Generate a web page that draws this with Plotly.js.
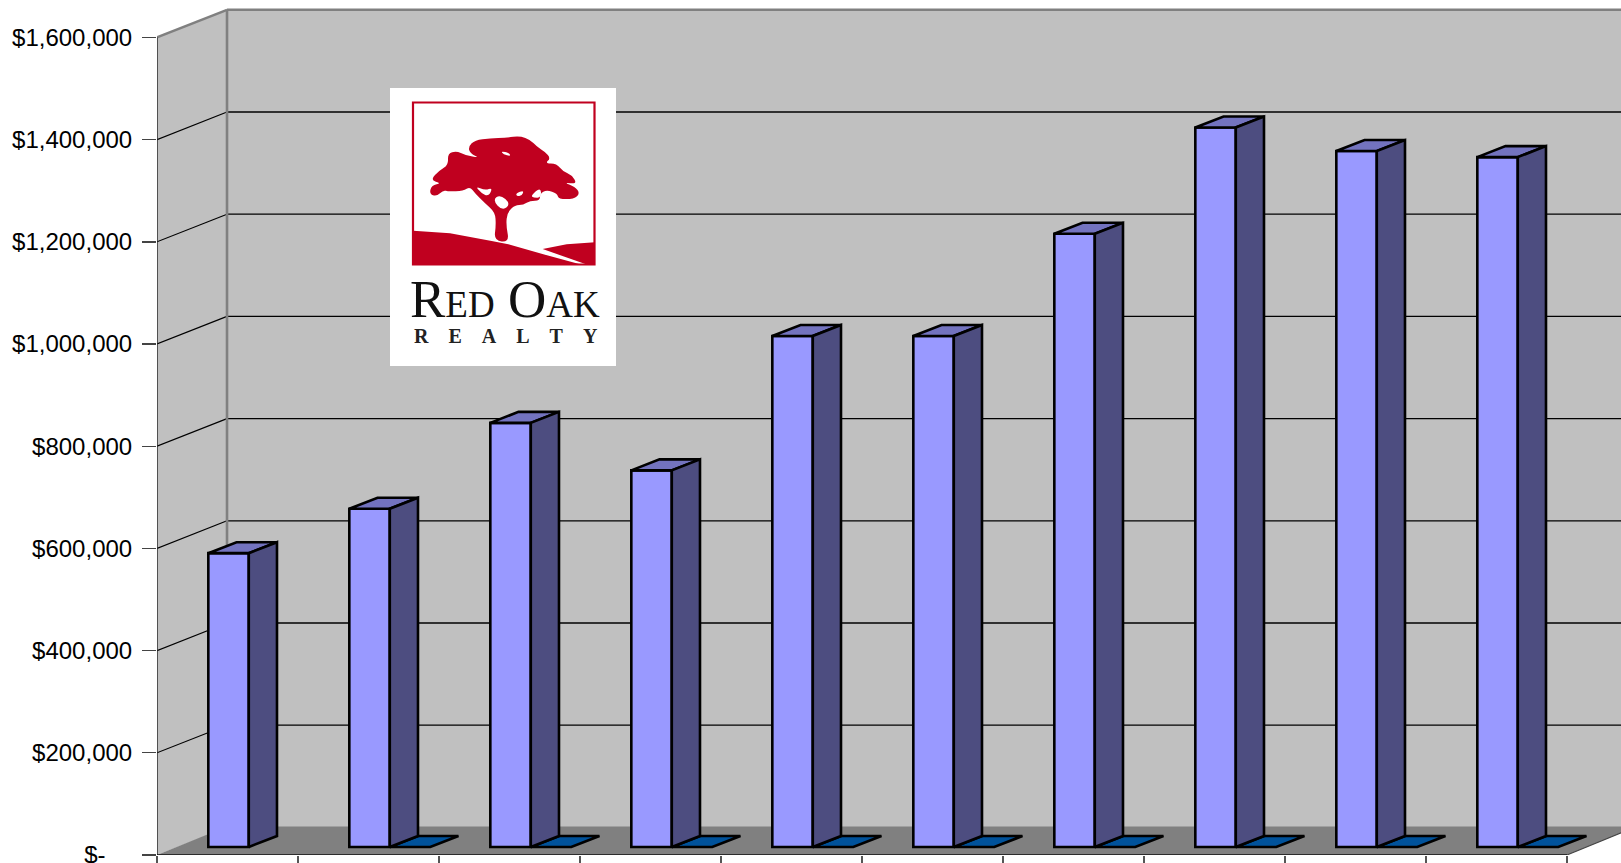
<!DOCTYPE html>
<html>
<head>
<meta charset="utf-8">
<script src="https://cdn.plot.ly/plotly-3.0.1.min.js"></script>
<style>html,body{margin:0;padding:0;background:#fff;overflow:hidden}</style>
</head>
<body>
<div id="chart" style="width:1621px;height:863px"></div>
<script>
const categoryIndex = [0, 1, 2, 3, 4, 5, 6, 7, 8, 9];
const seriesA = [575000, 662000, 830000, 737000, 1000000, 1000000, 1200000, 1408000, 1362000, 1350000];
const seriesB = [null, 0, 0, 0, 0, 0, 0, 0, 0, 0];
const tickValues = [0, 200000, 400000, 600000, 800000, 1000000, 1200000, 1400000, 1600000];
const tickLabels = ['$-\u00a0\u00a0\u00a0\u00a0', '$200,000', '$400,000', '$600,000', '$800,000', '$1,000,000', '$1,200,000', '$1,400,000', '$1,600,000'];

// oblique projection constants, in axis units
const wallDx = 0.4965, wallDy = 54000, floorDy = 56000;
const barLeft = 0.364, barW = 0.287, sideDx = 0.2, sideDy = 21500, barBase = 15656;
const xMax = 1464 / 141, yMax = 855 / 102.2 * 200000;
const EDGE = 2.6;

function poly(pts) { return 'M' + pts.map(p => p[0] + ',' + p[1]).join('L') + 'Z'; }
const shapes = [];
function fillShape(pts, color, layer) {
  shapes.push({type: 'path', xref: 'x', yref: 'y', path: poly(pts), fillcolor: color, line: {width: 0}, layer: layer || 'below'});
}
function seg(x0, y0, x1, y1, color, width) {
  shapes.push({type: 'line', xref: 'x', yref: 'y', x0, y0, x1, y1, line: {color, width}, layer: 'below'});
}
// walls and floor
fillShape([[0, 0], [0, 1600000], [wallDx, 1600000 + wallDy], [wallDx, wallDy]], '#c0c0c0');
fillShape([[wallDx, wallDy], [wallDx, 1600000 + wallDy], [10 + wallDx, 1600000 + wallDy], [10 + wallDx, wallDy]], '#c0c0c0');
fillShape([[0, 0], [wallDx, floorDy], [10 + wallDx, floorDy], [10, 0]], '#808080');
// gridlines
tickValues.slice(1, -1).forEach(v => {
  seg(0, v, wallDx, v + wallDy, '#000', 1.2);
  seg(wallDx, v + wallDy, 10 + wallDx, v + wallDy, '#000', 1.3);
});
seg(wallDx, 1600000 + wallDy, 10 + wallDx, 1600000 + wallDy, '#808080', 2.4);
seg(0, 1600000, wallDx, 1600000 + wallDy, '#808080', 2.4);
seg(wallDx, floorDy, wallDx, 1600000 + wallDy, '#808080', 2.6);
seg(0, 0, 0, 1600000, '#222', 1.4);
seg(10, 0, 10 + wallDx, floorDy, '#444', 1.1);

// logo, drawn in reference pixels and converted to paper fractions
const px = x => (x - 157) / 1464;
const py = y => (855 - y) / 855;
const cx = x => px(420 + x / 3);
const cy = y => py(125 + y / 3);
function logoPath(pts, fill) {
  shapes.push({type: 'path', xref: 'paper', yref: 'paper', layer: 'above',
    path: 'M' + pts.map(p => cx(p[0]) + ',' + cy(p[1])).join('L') + 'Z', fillcolor: fill, line: {width: 0}});
}
function logoSmooth(pts, fill) {
  const n = pts.length;
  const mid = i => [(pts[i][0] + pts[(i + 1) % n][0]) / 2, (pts[i][1] + pts[(i + 1) % n][1]) / 2];
  const m0 = mid(n - 1);
  let d = 'M' + cx(m0[0]) + ',' + cy(m0[1]);
  for (let i = 0; i < n; i++) {
    const m = mid(i);
    d += 'Q' + cx(pts[i][0]) + ',' + cy(pts[i][1]) + ' ' + cx(m[0]) + ',' + cy(m[1]);
  }
  shapes.push({type: 'path', xref: 'paper', yref: 'paper', layer: 'above', path: d + 'Z', fillcolor: fill, line: {width: 0}});
}
const RED = '#c0001f';
shapes.push({type: 'rect', xref: 'paper', yref: 'paper', layer: 'above', x0: px(390), x1: px(616), y0: py(366), y1: py(88), fillcolor: '#ffffff', line: {width: 0}});
shapes.push({type: 'rect', xref: 'paper', yref: 'paper', layer: 'above', x0: px(413), x1: px(594.5), y0: py(264.5), y1: py(102.5), fillcolor: 'rgba(0,0,0,0)', line: {color: RED, width: 2.2}});
const logoTree = [[30, 165], [60, 135], [85, 120], [83, 85], [110, 78], [135, 90], [180, 99], [150, 85], [145, 65], [165, 45], [210, 40], [260, 38], [300, 33], [332, 45], [350, 65], [375, 80], [392, 100], [375, 115], [410, 116], [430, 140], [455, 150], [472, 177], [430, 172], [465, 185], [480, 205], [462, 222], [415, 222], [412, 205], [380, 195], [360, 205], [360, 227], [330, 227], [310, 240], [285, 240], [262, 262], [258, 300], [268, 352], [222, 347], [228, 300], [225, 262], [195, 235], [165, 205], [150, 185], [130, 197], [85, 200], [70, 195], [50, 214], [28, 207], [35, 180], [65, 175]];
logoSmooth(logoTree, RED);
logoSmooth([[166, 183], [195, 196], [218, 188], [206, 214], [185, 206]], '#ffffff');
logoSmooth([[218, 226], [240, 208], [272, 236], [248, 258]], '#ffffff');
logoSmooth([[243, 78], [268, 84], [272, 94], [250, 88]], '#ffffff');
logoSmooth([[288, 205], [312, 196], [306, 212], [290, 214]], '#ffffff');
logoSmooth([[333, 212], [362, 186], [364, 218], [340, 218]], '#ffffff');
logoPath([[-20, 317], [90, 325], [215, 348], [265, 358], [370, 388], [480, 418], [-20, 418]], RED);
logoPath([[368, 372], [440, 358], [525, 352], [525, 418], [498, 418]], RED);

// bar side and top faces built from the values
function faces(values, base) {
  const sx = [], sy = [], tx = [], ty = [];
  values.forEach((v, i) => {
    if (v === null) return;
    const l = categoryIndex[i] + base, r = l + barW, top = barBase + v;
    sx.push(r, r + sideDx, r + sideDx, r, r, null);
    sy.push(barBase, barBase + sideDy, top + sideDy, top, barBase, null);
    tx.push(l, r, r + sideDx, l + sideDx, l, null);
    ty.push(top, top, top + sideDy, top + sideDy, top, null);
  });
  return {sx, sy, tx, ty};
}
const fa = faces(seriesA, barLeft);
const fb = faces(seriesB, barLeft + barW);
const blackEdge = {color: '#000', width: EDGE, shape: 'linear'};
const poly3d = (x, y, fill) => ({type: 'scatter', mode: 'lines', x, y, fill: 'toself', fillcolor: fill, line: blackEdge, hoverinfo: 'skip', showlegend: false, cliponaxis: false});

const traces = [
  {type: 'bar', x: categoryIndex.map(i => i + barLeft + barW / 2), y: seriesA, base: barBase, width: barW,
   marker: {color: '#9999ff', line: {color: '#000', width: EDGE}}, showlegend: false, hoverinfo: 'skip'},
  poly3d(fb.tx, fb.ty, '#00529b'),
  poly3d(fa.tx, fa.ty, '#7373bf'),
  poly3d(fa.sx, fa.sy, '#4d4d80'),
  {type: 'scatter', mode: 'lines', x: [0, 10], y: [0, 0], line: {color: '#111', width: 1.4}, hoverinfo: 'skip', showlegend: false, cliponaxis: false}
];

const serif = 'Liberation Serif, serif';
const annotations = [
  {xref: 'paper', yref: 'paper', x: px(408), y: py(299), xanchor: 'left', yanchor: 'middle', showarrow: false,
   text: "R<span style='font-size:37px'>ED</span>\u00a0O<span style='font-size:37px'>AK</span>",
   font: {family: serif, size: 53, color: '#111'}},
  {xref: 'paper', yref: 'paper', x: px(505.5), y: py(336), xanchor: 'center', yanchor: 'middle', showarrow: false,
   text: '<b>R\u00a0\u00a0\u00a0\u00a0E\u00a0\u00a0\u00a0\u00a0A\u00a0\u00a0\u00a0\u00a0L\u00a0\u00a0\u00a0\u00a0T\u00a0\u00a0\u00a0\u00a0Y</b>',
   font: {family: serif, size: 20, color: '#222'}}
];

const layout = {
  width: 1621, height: 863, autosize: false,
  margin: {l: 157, r: 0, t: 0, b: 8, pad: 0},
  paper_bgcolor: '#ffffff', plot_bgcolor: 'rgba(0,0,0,0)',
  barmode: 'overlay', showlegend: false,
  font: {family: 'Liberation Sans, Arial, sans-serif', size: 24, color: '#000'},
  xaxis: {type: 'linear', range: [0, xMax], tickmode: 'array', tickvals: [0, 1, 2, 3, 4, 5, 6, 7, 8, 9, 10], ticks: 'outside', ticklen: 8, tickwidth: 1.2, tickcolor: '#555', showticklabels: false, showgrid: false, zeroline: false, showline: false},
  yaxis: {range: [0, yMax], tickmode: 'array', tickvals: tickValues, ticktext: tickLabels, ticks: 'outside', ticklen: 14, tickwidth: 1.4, tickcolor: '#444', ticklabelstandoff: 5, ticklabeloverflow: 'allow', showgrid: false, zeroline: false, showline: false, tickfont: {size: 24, color: '#000'}},
  shapes, annotations
};
Plotly.newPlot('chart', traces, layout, {displayModeBar: false, staticPlot: true});
</script>
</body>
</html>
